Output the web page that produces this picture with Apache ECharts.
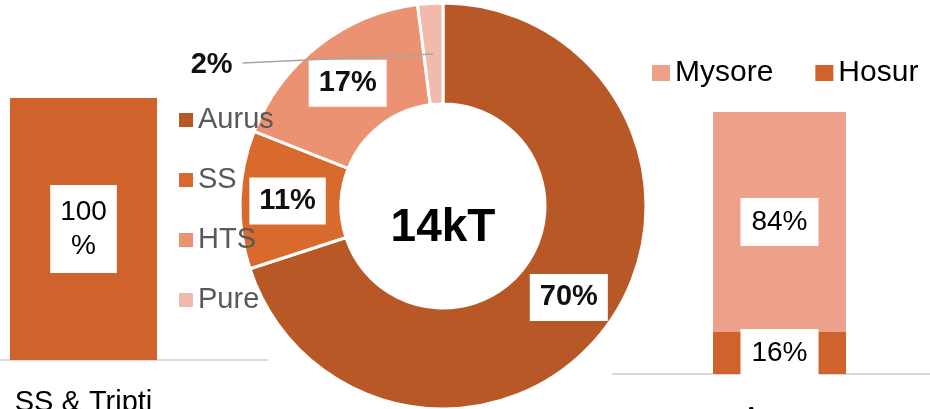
<!DOCTYPE html>
<html>
<head>
<meta charset="utf-8">
<script src="https://cdn.jsdelivr.net/npm/echarts@6/dist/echarts.min.js"></script>
<style>
html,body{margin:0;padding:0;background:#fff;}
#chart{width:930px;height:409px;}
</style>
</head>
<body>
<div id="chart"></div>
<script>
// ---- data ----
const donutCategories = ['Aurus', 'SS', 'HTS', 'Pure'];
const donutShares = [70, 11, 17, 2];
const donutTotalLabel = '14kT';

const leftCategories = ['SS & Tripti'];
const leftHosur = [100];

const rightCategories = ['Aurus'];
const rightHosur = [16];
const rightMysore = [84];

const barLegend = ['Mysore', 'Hosur'];

// ---- styles ----
const donutColors = ['#B85827', '#D86A2E', '#EB9272', '#F2BAAA'];
const hosurColor = '#D0632B';
const mysoreColor = '#EDA08A';
const FONT = 'Liberation Sans, Arial, sans-serif';
const PIE_CENTER = [443, 206];
const PIE_RADIUS = [102, 203];

const chart = echarts.init(document.getElementById('chart'), null, {renderer: 'canvas'});

const pieData = donutCategories.map((name, i) => {
  const item = {name: name, value: donutShares[i], itemStyle: {color: donutColors[i]}};
  if (name === 'Pure') item.label = {show: false};
  return item;
});

// overlay series: only used to draw the small-slice callout above the ring
const pieCalloutData = donutCategories.map((name, i) => ({
  name: name,
  value: donutShares[i],
  label: {show: name === 'Pure'},
  labelLine: {show: name === 'Pure'}
}));

const option = {
  animation: false,
  backgroundColor: '#ffffff',
  textStyle: {fontFamily: FONT},
  graphic: [{
    type: 'text',
    x: PIE_CENTER[0],
    y: PIE_CENTER[1] + 22,
    style: {
      text: donutTotalLabel,
      font: 'bold 46px ' + FONT,
      fill: '#000000',
      align: 'center',
      verticalAlign: 'middle'
    },
    z: 10
  }],
  legend: [
    {
      data: donutCategories,
      orient: 'vertical',
      left: 174,
      top: 100,
      itemWidth: 14,
      itemHeight: 14,
      itemGap: 30,
      icon: 'rect',
      itemStyle: {borderWidth: 0},
      textStyle: {fontSize: 29, color: '#595959', fontFamily: FONT, lineHeight: 30, padding: [0, 0, 0, 0]},
      selectedMode: false
    },
    {
      data: barLegend,
      orient: 'horizontal',
      left: 647,
      top: 52,
      itemWidth: 18,
      itemHeight: 16,
      itemGap: 42,
      icon: 'rect',
      itemStyle: {borderWidth: 0},
      textStyle: {fontSize: 30, color: '#000000', fontFamily: FONT, lineHeight: 32, padding: [0, 0, 0, 0]},
      selectedMode: false
    }
  ],
  grid: [
    {left: -100, width: 367, top: 98, height: 262, outerBoundsMode: 'none', containLabel: false},
    {left: 613, width: 333, top: 112, height: 262, outerBoundsMode: 'none', containLabel: false}
  ],
  xAxis: [
    {
      type: 'category', gridIndex: 0, data: leftCategories,
      axisLine: {show: true, lineStyle: {color: '#D9D9D9', width: 2}},
      axisTick: {show: false},
      axisLabel: {fontSize: 29, color: '#000000', margin: 28, fontFamily: FONT}
    },
    {
      type: 'category', gridIndex: 1, data: rightCategories,
      axisLine: {show: true, lineStyle: {color: '#D9D9D9', width: 2}},
      axisTick: {show: false},
      axisLabel: {fontSize: 29, color: '#000000', margin: 30, fontFamily: FONT}
    }
  ],
  yAxis: [
    {type: 'value', gridIndex: 0, min: 0, max: 100, show: false, splitLine: {show: false}},
    {type: 'value', gridIndex: 1, min: 0, max: 100, show: false, splitLine: {show: false}}
  ],
  series: [
    {
      type: 'pie',
      name: 'Share',
      center: PIE_CENTER,
      radius: PIE_RADIUS,
      startAngle: 90,
      clockwise: true,
      avoidLabelOverlap: false,
      itemStyle: {borderColor: '#ffffff', borderWidth: 3},
      label: {
        show: true,
        position: 'inside',
        formatter: '{c}%',
        fontSize: 29,
        fontWeight: 'bold',
        color: '#111111',
        fontFamily: FONT,
        backgroundColor: '#ffffff',
        padding: [8, 10, 8, 10],
        lineHeight: 31
      },
      labelLine: {show: false},
      emphasis: {disabled: true},
      data: pieData
    },
    {
      type: 'pie',
      name: 'Callout',
      z: 5,
      silent: true,
      center: PIE_CENTER,
      radius: PIE_RADIUS,
      startAngle: 90,
      clockwise: true,
      avoidLabelOverlap: false,
      itemStyle: {color: 'rgba(0,0,0,0)', borderWidth: 0},
      label: {
        position: 'outside',
        formatter: '{c}%',
        fontSize: 29,
        fontWeight: 'bold',
        color: '#111111',
        fontFamily: FONT
      },
      labelLine: {lineStyle: {color: '#A6A6A6', width: 1.5}},
      labelLayout: function (params) {
        const r = params.rect;
        const mx = r.x + r.width / 2 + 3;
        const my = r.y + r.height / 2;
        const ex = r.x - 175;
        return {
          x: ex - 10,
          y: my + 11,
          align: 'right',
          verticalAlign: 'middle',
          labelLinePoints: [[mx, my], [ex, my + 9], [ex, my + 9]]
        };
      },
      emphasis: {disabled: true},
      data: pieCalloutData
    },
    {
      type: 'bar',
      name: 'Hosur',
      xAxisIndex: 0, yAxisIndex: 0,
      barWidth: 147,
      itemStyle: {color: hosurColor},
      label: {
        show: true, position: 'inside', formatter: '{c}\n%',
        fontSize: 28, color: '#000000', fontFamily: FONT,
        backgroundColor: '#ffffff', padding: [10, 10, 10, 10], lineHeight: 34
      },
      emphasis: {disabled: true},
      data: leftHosur
    },
    {
      type: 'bar',
      name: 'Hosur',
      xAxisIndex: 1, yAxisIndex: 1,
      stack: 'plant',
      barWidth: 133,
      itemStyle: {color: hosurColor},
      label: {
        show: true, position: 'inside', formatter: '{c}%',
        fontSize: 28, color: '#000000', fontFamily: FONT,
        backgroundColor: '#ffffff', padding: [9, 11, 9, 11], lineHeight: 30
      },
      emphasis: {disabled: true},
      data: rightHosur
    },
    {
      type: 'bar',
      name: 'Mysore',
      xAxisIndex: 1, yAxisIndex: 1,
      stack: 'plant',
      barWidth: 133,
      itemStyle: {color: mysoreColor},
      label: {
        show: true, position: 'inside', formatter: '{c}%',
        fontSize: 28, color: '#000000', fontFamily: FONT,
        backgroundColor: '#ffffff', padding: [9, 11, 9, 11], lineHeight: 30
      },
      emphasis: {disabled: true},
      data: rightMysore
    }
  ]
};

chart.setOption(option);
</script>
</body>
</html>
